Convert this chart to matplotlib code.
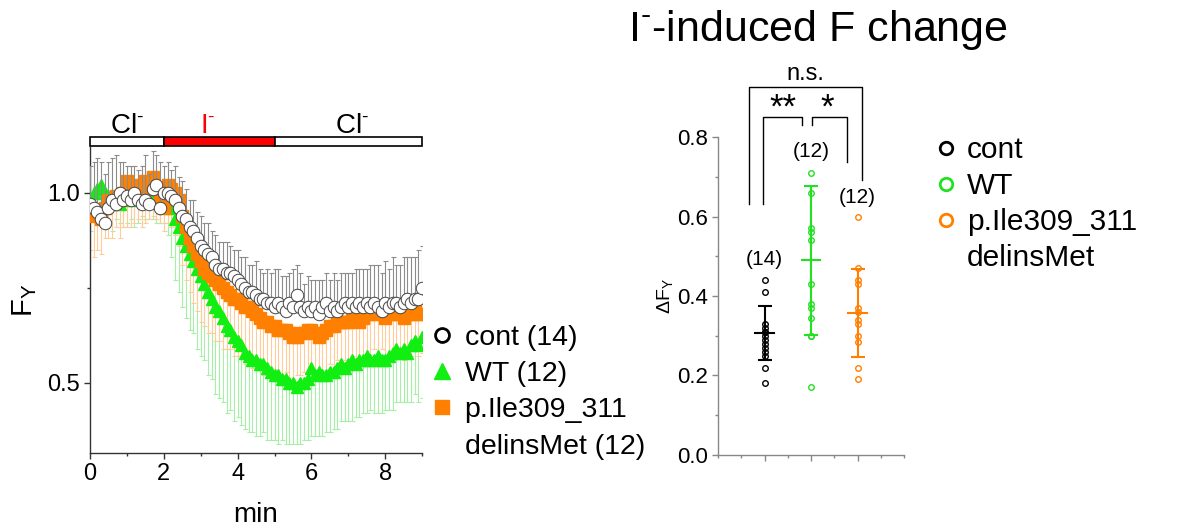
import numpy as np
import matplotlib
matplotlib.use('Agg')
import matplotlib.pyplot as plt
from matplotlib.lines import Line2D
from matplotlib.patches import Rectangle
import matplotlib.transforms as mtransforms
from matplotlib.ticker import MultipleLocator

plt.rcParams['font.family'] = ['Liberation Sans', 'DejaVu Sans']
plt.rcParams['mathtext.fontset'] = 'custom'
plt.rcParams['mathtext.rm'] = 'Liberation Sans'
plt.rcParams['mathtext.it'] = 'Liberation Sans:italic'
plt.rcParams['mathtext.default'] = 'regular'

# ---------------- time course data ----------------
time_min = [round(0.1 * i, 1) for i in range(91)]

cont_mean = [0.97, 0.96, 0.95, 0.93, 0.92, 0.96, 0.98, 0.97, 1.00, 0.98,
             0.99, 0.98, 1.00, 0.98, 0.97, 0.98, 0.97, 1.01, 1.02, 0.96,
             1.00, 1.00, 0.99, 0.98, 0.96, 0.94, 0.93, 0.91, 0.90, 0.88,
             0.86, 0.85, 0.84, 0.83, 0.81, 0.80, 0.80, 0.79, 0.79, 0.78,
             0.77, 0.76, 0.75, 0.74, 0.74, 0.73, 0.72, 0.72, 0.71, 0.71,
             0.70, 0.71, 0.70, 0.69, 0.71, 0.70, 0.73, 0.70, 0.69, 0.70,
             0.69, 0.70, 0.68, 0.70, 0.71, 0.69, 0.70, 0.69, 0.70, 0.71,
             0.70, 0.71, 0.70, 0.71, 0.70, 0.71, 0.70, 0.71, 0.70, 0.69,
             0.71, 0.70, 0.71, 0.71, 0.70, 0.71, 0.72, 0.71, 0.72, 0.72,
             0.75]
cont_err = [0.10, 0.12, 0.14, 0.15, 0.13, 0.12, 0.11, 0.13, 0.08, 0.10,
            0.08, 0.09, 0.07, 0.08, 0.10, 0.12, 0.08, 0.10, 0.08, 0.12,
            0.07, 0.08, 0.07, 0.09, 0.08, 0.09, 0.08, 0.07, 0.08, 0.07,
            0.08, 0.07, 0.08, 0.07, 0.08, 0.07, 0.07, 0.08, 0.07, 0.07,
            0.08, 0.07, 0.08, 0.07, 0.07, 0.09, 0.08, 0.07, 0.09, 0.08,
            0.10, 0.09, 0.08, 0.09, 0.08, 0.10, 0.08, 0.09, 0.07, 0.08,
            0.08, 0.07, 0.09, 0.07, 0.08, 0.08, 0.09, 0.08, 0.09, 0.08,
            0.09, 0.08, 0.10, 0.09, 0.10, 0.09, 0.11, 0.10, 0.11, 0.10,
            0.11, 0.10, 0.12, 0.10, 0.11, 0.12, 0.11, 0.12, 0.11, 0.13,
            0.11]

wt_mean = [0.98, 1.00, 1.01, 1.02, 1.00, 0.99, 0.98, 0.99, 0.97, 0.98,
           1.00, 0.99, 0.98, 1.00, 1.01, 0.99, 1.02, 1.00, 0.98, 0.99,
           1.00, 0.99, 0.96, 0.93, 0.91, 0.88, 0.86, 0.84, 0.82, 0.80,
           0.78, 0.76, 0.74, 0.72, 0.70, 0.69, 0.67, 0.65, 0.64, 0.62,
           0.61, 0.60, 0.58, 0.57, 0.56, 0.56, 0.55, 0.55, 0.54, 0.53,
           0.52, 0.52, 0.51, 0.51, 0.50, 0.50, 0.49, 0.50, 0.50, 0.51,
           0.54, 0.52, 0.53, 0.52, 0.52, 0.53, 0.53, 0.54, 0.55, 0.54,
           0.55, 0.56, 0.55, 0.56, 0.56, 0.57, 0.56, 0.56, 0.57, 0.56,
           0.56, 0.57, 0.58, 0.59, 0.58, 0.59, 0.58, 0.60, 0.61, 0.60,
           0.62]
wt_err = [0.08, 0.07, 0.09, 0.08, 0.06, 0.07, 0.08, 0.06, 0.05, 0.07,
          0.08, 0.06, 0.07, 0.08, 0.07, 0.06, 0.09, 0.07, 0.06, 0.07,
          0.08, 0.10, 0.13, 0.16, 0.17, 0.18, 0.19, 0.20, 0.19, 0.21,
          0.21, 0.20, 0.22, 0.21, 0.23, 0.23, 0.22, 0.23, 0.21, 0.22,
          0.20, 0.21, 0.20, 0.20, 0.19, 0.20, 0.19, 0.18, 0.19, 0.18,
          0.17, 0.18, 0.16, 0.17, 0.16, 0.16, 0.15, 0.16, 0.15, 0.16,
          0.18, 0.16, 0.17, 0.16, 0.15, 0.16, 0.15, 0.16, 0.15, 0.14,
          0.15, 0.16, 0.14, 0.15, 0.14, 0.15, 0.13, 0.14, 0.15, 0.14,
          0.13, 0.14, 0.15, 0.14, 0.13, 0.14, 0.13, 0.15, 0.14, 0.15,
          0.16]

mut_mean = [0.95, 0.94, 0.95, 0.93, 0.96, 0.98, 0.97, 0.99, 0.98, 1.00,
            1.03, 1.01, 1.00, 1.02, 1.01, 1.03, 1.02, 1.04, 1.01, 0.99,
            0.96, 1.02, 1.01, 1.00, 0.98, 0.94, 0.91, 0.88, 0.86, 0.84,
            0.82, 0.80, 0.79, 0.78, 0.77, 0.76, 0.75, 0.74, 0.73, 0.72,
            0.72, 0.71, 0.70, 0.70, 0.69, 0.68, 0.67, 0.66, 0.66, 0.65,
            0.65, 0.64, 0.64, 0.64, 0.63, 0.62, 0.62, 0.63, 0.63, 0.64,
            0.64, 0.63, 0.62, 0.63, 0.64, 0.65, 0.65, 0.66, 0.66, 0.66,
            0.66, 0.67, 0.67, 0.66, 0.67, 0.68, 0.68, 0.69, 0.68, 0.69,
            0.67, 0.68, 0.69, 0.68, 0.68, 0.67, 0.68, 0.68, 0.69, 0.68,
            0.68]
mut_err = [0.10, 0.11, 0.10, 0.09, 0.08, 0.10, 0.09, 0.08, 0.10, 0.09,
           0.12, 0.10, 0.08, 0.09, 0.10, 0.11, 0.09, 0.10, 0.08, 0.07,
           0.06, 0.10, 0.10, 0.11, 0.12, 0.13, 0.14, 0.14, 0.15, 0.15,
           0.16, 0.15, 0.16, 0.15, 0.16, 0.15, 0.16, 0.15, 0.14, 0.15,
           0.15, 0.14, 0.15, 0.14, 0.15, 0.14, 0.13, 0.14, 0.13, 0.12,
           0.12, 0.11, 0.12, 0.11, 0.12, 0.11, 0.10, 0.11, 0.10, 0.11,
           0.11, 0.10, 0.11, 0.10, 0.11, 0.10, 0.11, 0.10, 0.11, 0.10,
           0.11, 0.10, 0.11, 0.10, 0.11, 0.10, 0.11, 0.10, 0.11, 0.10,
           0.10, 0.11, 0.10, 0.11, 0.10, 0.11, 0.10, 0.11, 0.10, 0.11,
           0.10]

# solution periods
period_start = [0, 2, 5]
period_end = [2, 5, 9]
period_label = ['Cl$^{\\text{-}}$', 'I$^{\\text{-}}$', 'Cl$^{\\text{-}}$']
period_color = ['black', 'red', 'black']
period_fill = ['white', 'red', 'white']
period_label_x = [1.0, 3.2, 7.1]

# ---------------- summary data ----------------
groups = ['cont', 'WT', 'p.Ile309_311', 'delinsMet']
group_n = [14, 12, 12]
cont_pts = [0.44, 0.41, 0.33, 0.32, 0.31, 0.31, 0.30, 0.29, 0.28, 0.27, 0.26, 0.25, 0.22, 0.18]
wt_pts = [0.71, 0.66, 0.57, 0.56, 0.54, 0.43, 0.38, 0.37, 0.345, 0.30, 0.30, 0.17]
mut_pts = [0.60, 0.47, 0.44, 0.43, 0.37, 0.36, 0.34, 0.33, 0.30, 0.285, 0.22, 0.19]
group_mean = [0.307, 0.490, 0.358]
group_sd = [0.067, 0.187, 0.111]
n_label_y = [0.493, 0.764, 0.649]

col_cont = 'black'
col_wt = '#22E022'
col_mut = '#FF8000'

fig = plt.figure(figsize=(11.8, 5.29), dpi=100)

# ================= left panel =================
ax = fig.add_axes([0.0763, 0.1437, 0.2814, 0.5784])
t = np.array(time_min)
zeros = np.zeros(len(t))

ax.errorbar(t, wt_mean, yerr=[wt_err, zeros], fmt='none', ecolor='#A6F0A6',
            elinewidth=0.8, capsize=1.8, capthick=0.8, zorder=1)
ax.errorbar(t, mut_mean, yerr=[mut_err, zeros], fmt='none', ecolor='#FFCB99',
            elinewidth=0.8, capsize=1.8, capthick=0.8, zorder=2)
ax.plot(t, wt_mean, linestyle='none', marker='^', ms=9, mfc='#11EE11', mec='#11EE11', zorder=3)
ax.plot(t, mut_mean, linestyle='none', marker='s', ms=8.5, mfc=col_mut, mec=col_mut, zorder=4)
ax.errorbar(t, cont_mean, yerr=[zeros, cont_err], fmt='none', ecolor='#8C8C8C',
            elinewidth=0.8, capsize=1.8, capthick=0.8, zorder=5)
ax.plot(t, cont_mean, linestyle='none', marker='o', ms=9, mfc='white', mec='#444444', mew=0.7, zorder=6)

ax.set_xlim(0, 9)
ax.set_ylim(0.316, 1.12)
ax.xaxis.set_major_locator(MultipleLocator(2))
ax.xaxis.set_minor_locator(MultipleLocator(1))
ax.set_yticks([0.5, 1.0])
ax.set_yticklabels(['0.5', '1.0'])
ax.yaxis.set_minor_locator(MultipleLocator(0.25))
ax.spines['top'].set_visible(False)
ax.spines['right'].set_visible(False)
for s in ['left', 'bottom']:
    ax.spines[s].set_color('#333333')
    ax.spines[s].set_linewidth(1.0)
ax.tick_params(which='both', direction='out', colors='#333333', labelcolor='black',
               labelsize=17, width=1.0)
ax.tick_params(which='major', length=4)
ax.tick_params(which='minor', length=2.5)
ax.set_xlabel('min', fontsize=20, labelpad=12)
ax.set_ylabel('F$_Y$', fontsize=21, labelpad=6)

# solution bar
trans = mtransforms.blended_transform_factory(ax.transData, ax.transAxes)
for s0, s1, lab, lc, fc, lx in zip(period_start, period_end, period_label,
                                   period_color, period_fill, period_label_x):
    ax.add_patch(Rectangle((s0, 1.003), s1 - s0, 0.03, transform=trans, facecolor=fc,
                           edgecolor='black', linewidth=1.2, clip_on=False, zorder=10))
    ax.text(lx, 1.068, lab, transform=trans, ha='center', va='center', fontsize=20, color=lc)

blank = Line2D([], [], linestyle='none', marker='none')
leg_handles = [
    Line2D([], [], linestyle='none', marker='o', ms=10, mfc='white', mec='black', mew=2),
    Line2D([], [], linestyle='none', marker='^', ms=12, mfc='#11EE11', mec='#11EE11'),
    Line2D([], [], linestyle='none', marker='s', ms=10, mfc=col_mut, mec=col_mut),
    blank,
]
leg_labels = ['cont (%d)' % group_n[0], 'WT (%d)' % group_n[1],
              'p.Ile309_311', 'delinsMet (%d)' % group_n[2]]
leg1 = fig.legend(leg_handles, leg_labels, loc='upper left', bbox_to_anchor=(0.366, 0.386),
                  frameon=False, fontsize=20.5, handlelength=0.7, handletextpad=0.45,
                  labelspacing=0.36, borderaxespad=0, borderpad=0)

# ================= right panel =================
ax2 = fig.add_axes([0.6085, 0.1399, 0.1576, 0.6011])
xpos = [1, 2, 3]
pts_all = [cont_pts, wt_pts, mut_pts]
cols = [col_cont, col_wt, col_mut]
for x, pts, c, m, sd in zip(xpos, pts_all, cols, group_mean, group_sd):
    ax2.plot([x] * len(pts), pts, linestyle='none', marker='o', ms=4, mfc='none', mec=c, mew=1.0, zorder=3)
    ax2.errorbar([x], [m], yerr=[[sd], [sd]], fmt='none', ecolor=c, elinewidth=1.5,
                 capsize=5, capthick=1.5, zorder=4)
    ax2.plot([x - 0.2, x + 0.2], [m, m], color=c, lw=1.5, zorder=4)
for x, n, y in zip(xpos, group_n, n_label_y):
    ax2.text(x, y, '(%d)' % n, ha='center', va='center', fontsize=15)

ax2.set_xlim(0, 4)
ax2.set_ylim(0, 0.8)
ax2.set_xticks(xpos)
ax2.set_xticklabels([])
ax2.xaxis.set_minor_locator(MultipleLocator(0.5))
ax2.yaxis.set_major_locator(MultipleLocator(0.2))
ax2.yaxis.set_minor_locator(MultipleLocator(0.1))
ax2.yaxis.set_major_formatter(matplotlib.ticker.FormatStrFormatter('%.1f'))
ax2.spines['top'].set_visible(False)
ax2.spines['right'].set_visible(False)
for s in ['left', 'bottom']:
    ax2.spines[s].set_color('#888888')
    ax2.spines[s].set_linewidth(1.0)
ax2.tick_params(which='both', direction='out', colors='#888888', labelcolor='black',
                labelsize=16, width=1.0)
ax2.tick_params(which='major', length=4)
ax2.tick_params(which='minor', length=2.5)
ax2.set_ylabel('$\\Delta$F$_Y$', fontsize=14, labelpad=1)

# significance brackets
br = dict(color='black', lw=1.0, clip_on=False)
ax2.plot([0.67, 0.67, 3.1, 3.1], [0.631, 0.926, 0.926, 0.693], **br)
ax2.text(1.87, 0.958, 'n.s.', ha='center', va='center', fontsize=17)
ax2.plot([0.97, 0.97, 1.81, 1.81], [0.631, 0.850, 0.850, 0.829], **br)
ax2.text(1.4, 0.872, '**', ha='center', va='center', fontsize=25)
ax2.plot([2.02, 2.02, 2.78, 2.78], [0.829, 0.850, 0.850, 0.737], **br)
ax2.text(2.34, 0.872, '*', ha='center', va='center', fontsize=25)

fig.text(0.693, 0.943, 'I$^{\\text{-}}$-induced F change', ha='center', va='center', fontsize=31)

leg2_handles = [Line2D([], [], linestyle='none', marker='o', ms=9, mfc='none', mec=c, mew=2)
                for c in cols] + [blank]
leg2 = fig.legend(leg2_handles, groups, loc='upper left', bbox_to_anchor=(0.794, 0.743),
                  frameon=False, fontsize=21.5, handlelength=0.6, handletextpad=0.4,
                  labelspacing=0.27, borderaxespad=0, borderpad=0)

fig.savefig('out.png', dpi=100)
